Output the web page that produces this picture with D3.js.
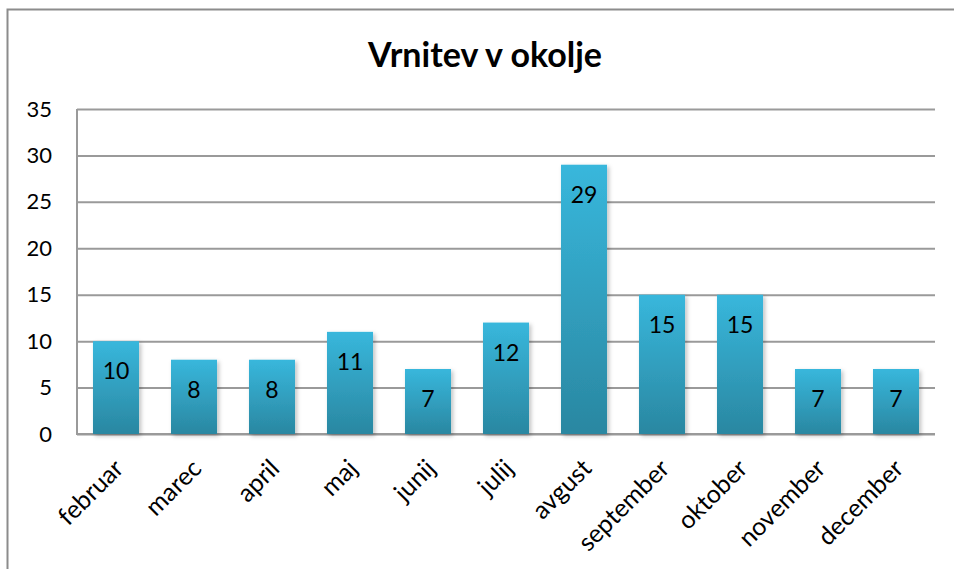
<!DOCTYPE html>
<html>
<head>
<meta charset="utf-8">
<script src="https://cdn.jsdelivr.net/npm/d3@7"></script>
<style>
	body { margin: 0; background: #fff; }
	text { font-family: Lato, "Open Sans", sans-serif; fill: #000; }
</style>
</head>
<body>
<div id="chart"></div>
<script>
// data
const months = ['februar', 'marec', 'april', 'maj', 'junij', 'julij', 'avgust', 'september', 'oktober', 'november', 'december'];
const values = [10, 8, 8, 11, 7, 12, 29, 15, 15, 7, 7];
const yTicks = [0, 5, 10, 15, 20, 25, 30, 35];
const title = 'Vrnitev v okolje';

const width = 954, height = 569;
const m = { left: 77, right: 19, top: 109, bottom: 135 };
const plotW = width - m.left - m.right;
const plotH = height - m.top - m.bottom;

const svg = d3.select('#chart').append('svg')
	.attr('width', width)
	.attr('height', height);

const defs = svg.append('defs');
const grad = defs.append('linearGradient')
	.attr('id', 'barGrad')
	.attr('x1', 0).attr('y1', 0).attr('x2', 0).attr('y2', 1);
grad.append('stop').attr('offset', '0%').attr('stop-color', '#38b7dc');
grad.append('stop').attr('offset', '100%').attr('stop-color', '#2a87a1');

const shadow = defs.append('filter').attr('id', 'shadow')
	.attr('x', '-20%').attr('y', '-10%').attr('width', '150%').attr('height', '130%');
shadow.append('feDropShadow')
	.attr('dx', 2).attr('dy', 2).attr('stdDeviation', 2)
	.attr('flood-color', '#000').attr('flood-opacity', 0.25);

// outer frame
svg.append('path')
	.attr('d', 'M7.5,' + height + 'V9.5H' + width)
	.attr('fill', 'none')
	.attr('stroke', '#8c8c8c')
	.attr('stroke-width', 2);

svg.append('text')
	.attr('x', 485)
	.attr('y', 67)
	.attr('text-anchor', 'middle')
	.style('font-size', '34px')
	.style('font-weight', 'bold')
	.text(title);

const plot = svg.append('g')
	.attr('transform', 'translate(' + m.left + ',' + m.top + ')');

const x = d3.scaleBand()
	.domain(months)
	.range([0, plotW])
	.paddingInner(0.41)
	.paddingOuter(0.205);

const y = d3.scaleLinear()
	.domain([0, 35])
	.range([plotH, 0]);

// grid + y axis
plot.append('g')
	.attr('class', 'y axis')
	.call(d3.axisLeft(y).tickValues(yTicks).tickSize(-plotW).tickPadding(25))
	.call(g => g.select('.domain').remove())
	.call(g => g.selectAll('.tick line').attr('stroke', '#9a9a9a').attr('stroke-width', 2))
	.call(g => g.selectAll('.tick text').style('font-size', '22px').attr('fill', '#000'));

// plot frame left + bottom
plot.append('path')
	.attr('d', 'M0,0V' + plotH + 'H' + plotW)
	.attr('fill', 'none')
	.attr('stroke', '#9a9a9a')
	.attr('stroke-width', 2);

// bars
plot.selectAll('.bar')
	.data(values)
	.enter().append('rect')
	.attr('class', 'bar')
	.attr('x', (d, i) => x(months[i]))
	.attr('y', d => y(d))
	.attr('width', x.bandwidth())
	.attr('height', d => plotH - y(d))
	.attr('fill', 'url(#barGrad)')
	.attr('filter', 'url(#shadow)');

// value labels
plot.selectAll('.val')
	.data(values)
	.enter().append('text')
	.attr('class', 'val')
	.attr('x', (d, i) => x(months[i]) + x.bandwidth() / 2)
	.attr('y', d => y(d) + 38)
	.attr('text-anchor', 'middle')
	.style('font-size', '23px')
	.text(d => d);

// x labels
plot.selectAll('.xlab')
	.data(months)
	.enter().append('text')
	.attr('class', 'xlab')
	.attr('transform', d => 'translate(' + (x(d) + x.bandwidth() / 2 + 9) + ',' + (plotH + 36) + ') rotate(-45)')
	.attr('text-anchor', 'end')
	.style('font-size', '25px')
	.text(d => d);
</script>
</body>
</html>
